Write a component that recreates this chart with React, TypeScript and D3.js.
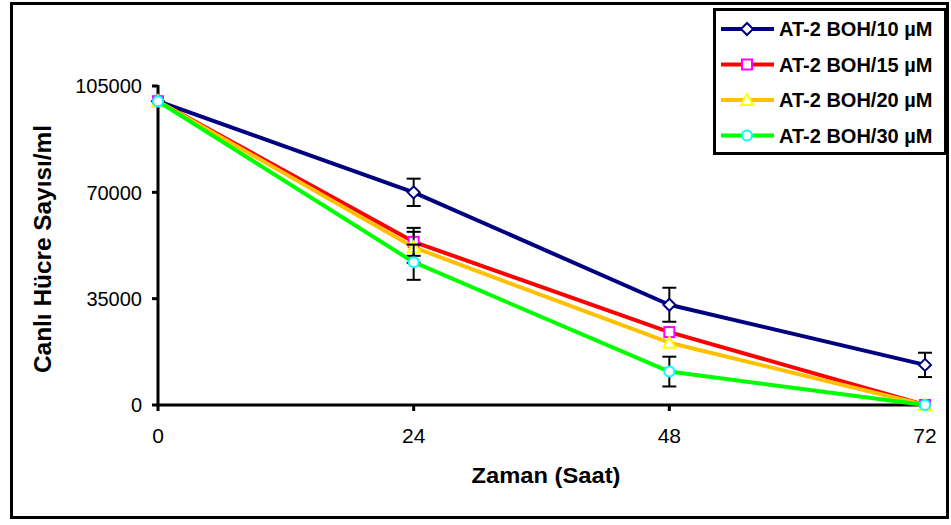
import React from 'react';
import * as d3 from 'd3';

const hours = [0, 24, 48, 72];
const yTicks = [0, 35000, 70000, 105000];

const seriesNames = ['AT-2 BOH/10 µM', 'AT-2 BOH/15 µM', 'AT-2 BOH/20 µM', 'AT-2 BOH/30 µM'];
const values10 = [100000, 70000, 33000, 13200];
const values15 = [100000, 53700, 24000, 0];
const values20 = [100000, 51900, 20500, 0];
const values30 = [100000, 47000, 11000, 0];
const errors10 = [0, 4500, 5600, 4000];
const errors15 = [0, 4600, 0, 0];
const errors20 = [0, 5100, 0, 0];
const errors30 = [0, 5800, 4900, 0];

const lineColors = ['#000080', '#ff0000', '#ffc000', '#00ff00'];
const markerColors = ['#000080', '#ff00ff', '#ffff00', '#00ffff'];
const markerKinds = ['diamond', 'square', 'triangle', 'circle'];

const allValues = [values10, values15, values20, values30];
const allErrors = [errors10, errors15, errors20, errors30];

const font = 'Arial, "Liberation Sans", sans-serif';

function Marker({ kind, x, y, color }: { kind: string; x: number; y: number; color: string }) {
  const s = 5;
  if (kind === 'diamond')
    return <path d={`M${x},${y - s - 1}L${x + s + 1},${y}L${x},${y + s + 1}L${x - s - 1},${y}Z`} fill="#fff" stroke={color} strokeWidth={2} />;
  if (kind === 'square')
    return <rect x={x - s} y={y - s} width={s * 2} height={s * 2} fill="#fff" stroke={color} strokeWidth={2} />;
  if (kind === 'triangle')
    return <path d={`M${x},${y - s - 1}L${x + s + 1},${y + s}L${x - s - 1},${y + s}Z`} fill="#fff" stroke={color} strokeWidth={2} />;
  return <circle cx={x} cy={y} r={s} fill="#fff" stroke={color} strokeWidth={2} />;
}

export default function App() {
  const width = 951;
  const height = 525;
  const x = d3.scaleLinear().domain([0, 72]).range([158, 925]);
  const y = d3.scaleLinear().domain([0, 105000]).range([405, 86]);
  const line = d3.line<number>().x((_, i) => x(hours[i])).y(d => y(d));

  return (
    <svg width={width} height={height} style={{ position: 'absolute', left: 0, top: 0 }} fontFamily={font}>
      <rect x={0} y={0} width={width} height={height} fill="#fff" />
      <rect x={11.5} y={3.5} width={936} height={514} fill="none" stroke="#000" strokeWidth={3} />

      {/* axes */}
      <line x1={x(0)} x2={x(0)} y1={y(105000) - 1} y2={y(0)} stroke="#000" strokeWidth={3} />
      <line x1={x(0) - 1} x2={x(72) + 6} y1={y(0)} y2={y(0)} stroke="#000" strokeWidth={3} />
      {yTicks.map(t => (
        <g key={t}>
          <line x1={x(0) - 6} x2={x(0)} y1={y(t)} y2={y(t)} stroke="#000" strokeWidth={3} />
          <text x={142} y={y(t)} dy="0.36em" textAnchor="end" fontSize={20}>{t}</text>
        </g>
      ))}
      {hours.map(h => (
        <g key={h}>
          <line x1={x(h)} x2={x(h)} y1={y(0)} y2={y(0) + 6} stroke="#000" strokeWidth={3} />
          <text x={x(h)} y={443} textAnchor="middle" fontSize={21}>{h}</text>
        </g>
      ))}
      <text x={546} y={483} textAnchor="middle" fontSize={22} fontWeight="bold" textLength={149} lengthAdjust="spacingAndGlyphs">Zaman (Saat)</text>
      <text transform="translate(51,249) rotate(-90)" textAnchor="middle" fontSize={24} fontWeight="bold" textLength={248} lengthAdjust="spacingAndGlyphs">Canlı Hücre Sayısı/ml</text>

      {/* series */}
      {allValues.map((vals, si) => (
        <g key={si}>
          <path d={line(vals) || ''} fill="none" stroke={lineColors[si]} strokeWidth={4} strokeLinejoin="round" />
          {vals.map((v, i) => allErrors[si][i] > 0 && (
            <g key={i} stroke="#000" strokeWidth={2}>
              <line x1={x(hours[i])} x2={x(hours[i])} y1={y(v + allErrors[si][i])} y2={y(v - allErrors[si][i])} />
              <line x1={x(hours[i]) - 7} x2={x(hours[i]) + 7} y1={y(v + allErrors[si][i])} y2={y(v + allErrors[si][i])} />
              <line x1={x(hours[i]) - 7} x2={x(hours[i]) + 7} y1={y(v - allErrors[si][i])} y2={y(v - allErrors[si][i])} />
            </g>
          ))}
          {vals.map((v, i) => (
            <Marker key={i} kind={markerKinds[si]} x={x(hours[i])} y={y(v)} color={markerColors[si]} />
          ))}
        </g>
      ))}

      {/* legend */}
      <rect x={714.5} y={9.5} width={231} height={144} fill="#fff" stroke="#000" strokeWidth={3} />
      {seriesNames.map((name, si) => {
        const ly = 29 + si * 35.5;
        return (
          <g key={name}>
            <line x1={721} x2={774} y1={ly} y2={ly} stroke={lineColors[si]} strokeWidth={4} />
            <Marker kind={markerKinds[si]} x={747} y={ly} color={markerColors[si]} />
            <text x={779} y={ly} dy="0.36em" fontSize={20} fontWeight="bold">{name}</text>
          </g>
        );
      })}
    </svg>
  );
}
